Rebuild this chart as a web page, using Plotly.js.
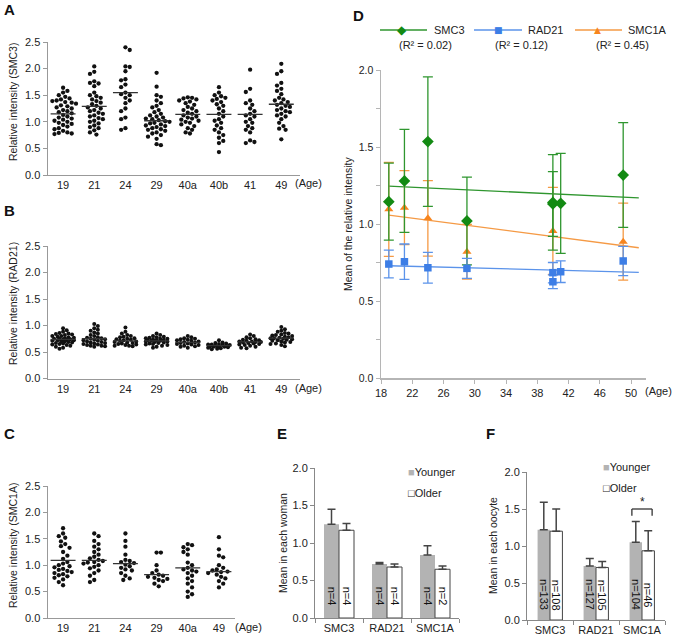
<!DOCTYPE html>
<html><head><meta charset="utf-8">
<script src="https://cdn.plot.ly/plotly-3.0.1.min.js"></script>
<style>html,body{margin:0;padding:0;background:#fff}</style>
</head><body><div id="chart" style="width:675px;height:641px"></div>
<script>
// ---------- categories ----------
const ages = ['19','21','24','29','40a','40b','41','49'];
const agesC = ['19','21','24','29','40a','49'];
const proteins = ['SMC3','RAD21','SMC1A'];

// ---------- Panel A: SMC3 relative intensity per oocyte ----------
const smc3_19 = [1.64,1.58,1.55,1.50,1.47,1.44,1.42,1.40,1.39,1.37,1.36,1.34,1.31,1.29,1.27,1.25,1.22,1.20,1.18,1.16,1.13,1.10,1.08,1.06,1.04,1.02,1.00,0.98,0.96,0.94,0.91,0.88,0.86,0.83,0.80,0.79,0.78,0.77];
const smc3_21 = [2.04,1.94,1.90,1.76,1.73,1.72,1.67,1.55,1.50,1.48,1.45,1.42,1.39,1.36,1.33,1.30,1.27,1.25,1.22,1.20,1.17,1.15,1.12,1.10,1.07,1.05,1.02,1.00,0.97,0.93,0.90,0.88,0.84,0.80,0.76];
const smc3_24 = [2.40,2.35,2.04,2.03,1.95,1.80,1.78,1.70,1.65,1.55,1.52,1.50,1.45,1.40,1.35,1.25,1.20,1.08,1.05,0.88,0.85];
const smc3_29 = [1.92,1.66,1.50,1.47,1.40,1.35,1.30,1.27,1.22,1.18,1.15,1.12,1.10,1.08,1.06,1.05,1.03,1.01,1.00,0.98,0.97,0.95,0.93,0.92,0.90,0.88,0.86,0.85,0.83,0.80,0.78,0.75,0.72,0.68,0.58,0.56];
const smc3_40a = [1.46,1.45,1.44,1.42,1.40,1.38,1.35,1.32,1.28,1.25,1.22,1.20,1.17,1.15,1.12,1.10,1.08,1.06,1.04,1.02,1.00,0.98,0.95,0.92,0.88,0.85,0.80,0.78];
const smc3_40b = [1.65,1.55,1.50,1.48,1.45,1.43,1.40,1.37,1.33,1.30,1.25,1.20,1.15,1.10,1.05,1.02,0.98,0.93,0.88,0.85,0.80,0.75,0.70,0.64,0.60,0.43];
const smc3_41 = [1.98,1.62,1.56,1.40,1.35,1.32,1.25,1.20,1.15,1.12,1.10,1.05,1.00,0.98,0.92,0.88,0.85,0.80,0.65,0.62,0.60];
const smc3_49 = [2.09,1.95,1.90,1.73,1.68,1.62,1.58,1.52,1.45,1.42,1.40,1.37,1.35,1.32,1.30,1.28,1.25,1.22,1.20,1.18,1.15,1.12,1.10,1.05,0.98,0.92,0.87,0.85,0.67];
const smc3Means = [1.15,1.29,1.55,1.02,1.14,1.14,1.14,1.33];

// ---------- Panel B: RAD21 ----------
const rad21_19 = [0.95,0.91,0.88,0.86,0.85,0.84,0.83,0.82,0.80,0.80,0.79,0.78,0.77,0.76,0.75,0.75,0.74,0.74,0.73,0.72,0.72,0.71,0.70,0.70,0.69,0.68,0.67,0.66,0.65,0.64,0.63,0.62,0.60,0.58,0.56];
const rad21_21 = [1.03,0.99,0.95,0.92,0.90,0.87,0.85,0.82,0.80,0.78,0.77,0.76,0.75,0.74,0.73,0.72,0.71,0.70,0.69,0.68,0.67,0.66,0.65,0.64,0.63,0.62,0.62,0.61,0.60];
const rad21_24 = [0.96,0.88,0.85,0.82,0.80,0.79,0.78,0.76,0.75,0.74,0.73,0.72,0.71,0.70,0.69,0.68,0.67,0.66,0.65,0.64,0.63,0.62,0.62,0.61];
const rad21_29 = [0.85,0.82,0.80,0.79,0.78,0.77,0.76,0.75,0.75,0.74,0.73,0.72,0.72,0.71,0.71,0.70,0.70,0.69,0.68,0.67,0.66,0.65,0.64,0.63,0.62,0.60,0.58];
const rad21_40a = [0.80,0.78,0.76,0.75,0.74,0.73,0.72,0.71,0.70,0.69,0.68,0.67,0.66,0.65,0.64,0.63,0.62,0.61,0.60,0.58];
const rad21_40b = [0.72,0.68,0.67,0.66,0.65,0.64,0.64,0.63,0.63,0.62,0.62,0.61,0.61,0.60,0.60,0.59,0.58,0.57,0.56,0.55];
const rad21_41 = [0.83,0.80,0.78,0.76,0.74,0.73,0.72,0.71,0.70,0.70,0.69,0.69,0.68,0.67,0.66,0.65,0.64,0.63,0.62,0.60,0.58,0.57];
const rad21_49 = [0.97,0.93,0.90,0.88,0.86,0.85,0.83,0.82,0.81,0.80,0.79,0.78,0.77,0.76,0.76,0.75,0.74,0.73,0.72,0.71,0.70,0.69,0.68,0.66,0.65,0.63,0.61];
const rad21Means = [0.74,0.75,0.71,0.71,0.68,0.62,0.69,0.76];

// ---------- Panel C: SMC1A ----------
const smc1a_19 = [1.70,1.60,1.55,1.52,1.45,1.40,1.36,1.33,1.25,1.18,1.12,1.06,1.03,1.00,0.98,0.96,0.93,0.91,0.89,0.87,0.85,0.83,0.81,0.79,0.76,0.73,0.68,0.62];
const smc1a_21 = [1.60,1.55,1.46,1.40,1.35,1.30,1.25,1.20,1.16,1.13,1.10,1.08,1.06,1.05,1.03,1.00,0.97,0.94,0.90,0.85,0.80,0.72,0.68];
const smc1a_24 = [1.60,1.46,1.35,1.20,1.10,1.08,1.06,1.04,1.01,0.98,0.95,0.92,0.90,0.85,0.80,0.75,0.72];
const smc1a_29 = [1.24,1.24,1.00,0.90,0.85,0.82,0.80,0.78,0.76,0.74,0.72,0.70,0.65,0.60];
const smc1a_40a = [1.40,1.38,1.34,1.30,1.25,1.20,1.05,1.00,0.95,0.92,0.90,0.88,0.85,0.80,0.75,0.70,0.65,0.58,0.50,0.45,0.40];
const smc1a_49 = [1.53,1.30,1.18,1.15,1.00,0.95,0.92,0.90,0.88,0.87,0.85,0.82,0.78,0.75,0.70,0.65,0.58];
const smc1aMeans = [1.09,1.09,1.03,0.82,0.95,0.88];

// ---------- Panel D: mean +/- SD vs age ----------
const ageD = [19,21,24,29,40,40,41,49];
const ageDc = [19,21,24,29,40,49];
const dSmc3 = [1.145,1.28,1.535,1.02,1.13,1.14,1.134,1.318];
const dSmc3Sd = [0.25,0.335,0.42,0.285,0.21,0.31,0.325,0.34];
const dRad21 = [0.74,0.755,0.716,0.712,0.684,0.625,0.69,0.76];
const dRad21Sd = [0.09,0.115,0.10,0.065,0.066,0.045,0.07,0.095];
const dSmc1a = [1.095,1.106,1.037,0.82,0.955,0.885];
const dSmc1aSd = [0.305,0.24,0.245,0.177,0.283,0.25];
const trendAges = [19,51];
const r2Labels = ['(R² = 0.02)','(R² = 0.12)','(R² = 0.45)'];
const dTicks = [18,22,26,30,34,38,42,46,50];

// ---------- Panel E: mean in each woman ----------
const eYoung = [1.25,0.72,0.84];
const eYoungErr = [0.20,0.02,0.125];
const eOld = [1.17,0.68,0.65];
const eOldErr = [0.09,0.04,0.045];
const eYoungN = [4,4,4];
const eOldN = [4,4,2];

// ---------- Panel F: mean in each oocyte ----------
const fYoung = [1.22,0.73,1.05];
const fYoungErr = [0.37,0.10,0.28];
const fOld = [1.20,0.71,0.935];
const fOldErr = [0.30,0.08,0.27];
const fYoungN = [133,127,104];
const fOldN = [108,105,46];

// ================= drawing =================
const W = 675, H = 641;
const X = p => p / W, Y = p => 1 - p / H;

const domA = {x:[X(47.5),X(300)], y:[Y(175),Y(42)], xr:[-0.5,7.6]};
const domB = {x:[X(47.5),X(300)], y:[Y(378.5),Y(246)], xr:[-0.5,7.6]};
const domC = {x:[X(47.5),X(234.5)], y:[Y(618),Y(486)], xr:[-0.5,5.5]};

// beeswarm layout: spread points sideways so they do not overlap, within a max half-width
function swarm(vals, pxY, gap, half) {
  const order = vals.map((v,i)=>i).sort((a,b)=>vals[b]-vals[a]);
  const placed = [], out = new Array(vals.length).fill(0);
  order.forEach((i, n) => {
    const y = vals[i]*pxY;
    const sgn = n % 2 ? 1 : -1;
    let best = 0, bestD = -1;
    for (let k = 0; k < 200; k++) {
      const s = Math.ceil(k/2) * gap * 0.5 * (k % 2 ? sgn : -sgn);
      if (Math.abs(s) > half) break;
      const dmin = placed.reduce((m, p) => Math.min(m, Math.hypot(p.x-s, p.y-y)), Infinity);
      if (dmin >= gap) { best = s; bestD = dmin; break; }
      if (dmin > bestD) { best = s; bestD = dmin; }
    }
    placed.push({x:best, y:y}); out[i] = best;
  });
  return out;
}

const traces = [];
function dotPanel(groups, means, dom, xa, ya, dot, gap, half) {
  const pxY = (dom.y[1]-dom.y[0])*H/2.5;
  const pxX = (dom.x[1]-dom.x[0])*W/(dom.xr[1]-dom.xr[0]);
  groups.forEach((vals, g) => {
    const off = swarm(vals, pxY, gap, half);
    traces.push({type:'scatter', mode:'markers', xaxis:xa, yaxis:ya, hoverinfo:'skip',
      x: off.map(o => g + o/pxX), y: vals,
      marker:{size:dot, color:'#111', line:{width:0}}});
  });
  const mx = [], my = [];
  means.forEach((m, g) => { mx.push(g-0.4, g+0.4, null); my.push(m, m, null); });
  traces.push({type:'scatter', mode:'lines', xaxis:xa, yaxis:ya, hoverinfo:'skip', x:mx, y:my,
    line:{color:'#333', width:1.3}});
}
dotPanel([smc3_19,smc3_21,smc3_24,smc3_29,smc3_40a,smc3_40b,smc3_41,smc3_49], smc3Means, domA, 'x', 'y', 4.3, 4.3, 13);
dotPanel([rad21_19,rad21_21,rad21_24,rad21_29,rad21_40a,rad21_40b,rad21_41,rad21_49], rad21Means, domB, 'x2', 'y2', 4, 3.6, 12.5);
dotPanel([smc1a_19,smc1a_21,smc1a_24,smc1a_29,smc1a_40a,smc1a_49], smc1aMeans, domC, 'x3', 'y3', 4.3, 4.3, 13);

// Panel D
function trend(xs, ys) {
  const n = xs.length, mx = xs.reduce((a,b)=>a+b)/n, my = ys.reduce((a,b)=>a+b)/n;
  let sxy = 0, sxx = 0;
  for (let i = 0; i < n; i++) { sxy += (xs[i]-mx)*(ys[i]-my); sxx += (xs[i]-mx)**2; }
  const b = sxy/sxx;
  return trendAges.map(x => my + b*(x-mx));
}
const G = {m:'#138a13', l:'#2f962f'}, B = {m:'#3d7ee6', l:'#5b93ea'}, O = {m:'#f7851e', l:'#f59a45'};
[[ageD,dSmc3,G],[ageD,dRad21,B],[ageDc,dSmc1a,O]].forEach(([xs,ys,c]) => {
  traces.push({type:'scatter', mode:'lines', xaxis:'x4', yaxis:'y4', hoverinfo:'skip',
    x:trendAges, y:trend(xs,ys), line:{color:c.l, width:1.3}});
});
[[ageDc,dSmc1a,dSmc1aSd,O,'triangle-up',8],[ageD,dSmc3,dSmc3Sd,G,'diamond',9],[ageD,dRad21,dRad21Sd,B,'square',7.5]].forEach(([xs,ys,sd,c,sym,sz]) => {
  traces.push({type:'scatter', mode:'markers', xaxis:'x4', yaxis:'y4', hoverinfo:'skip',
    x:xs, y:ys, marker:{symbol:sym, size:sz, color:c.m},
    error_y:{type:'data', array:sd, visible:true, color:c.l, thickness:1.3, width:5}});
});

// Panels E and F
const nLabels = [];
function barPair(young, yErr, old, oErr, yN, oN, xa, ya, w, labelY) {
  const common = {type:'bar', x:proteins, xaxis:xa, yaxis:ya, width:w, hoverinfo:'skip'};
  traces.push(Object.assign({}, common, {y:young, offset:-w, marker:{color:'#b3b3b3', line:{width:0}},
    error_y:{type:'data', symmetric:false, array:yErr, arrayminus:yErr.map(()=>0), color:'#444', thickness:1.5, width:4}}));
  traces.push(Object.assign({}, common, {y:old, offset:0, marker:{color:'#fff', line:{color:'#444', width:1}},
    error_y:{type:'data', symmetric:false, array:oErr, arrayminus:oErr.map(()=>0), color:'#444', thickness:1.5, width:4}}));
  proteins.forEach((p, i) => {
    nLabels.push({xref:xa, yref:ya, x:i - w/2, y:labelY, text:'n='+yN[i], textangle:90, showarrow:false, font:{size:11, color:'#111'}});
    nLabels.push({xref:xa, yref:ya, x:i + w/2, y:labelY, text:'n='+oN[i], textangle:90, showarrow:false, font:{size:11, color:'#111'}});
  });
}
barPair(eYoung,eYoungErr,eOld,eOldErr,eYoungN,eOldN,'x5','y5',0.3125,0.29);
barPair(fYoung,fYoungErr,fOld,fOldErr,fYoungN,fOldN,'x6','y6',0.27,0.34);

// ---------- layout ----------
const base = {showgrid:false, zeroline:false, showline:true, linecolor:'#999', linewidth:1,
  tickfont:{size:11, color:'#222'}, fixedrange:true, ticklen:4, tickcolor:'#999'};
function catX(dom, labels, anchor) {
  return Object.assign({}, base, {domain:dom.x, range:dom.xr, tickvals:labels.map((l,i)=>i), ticktext:labels, ticks:'', anchor:anchor});
}
function valY(dom, anchor) {
  return Object.assign({}, base, {domain:dom.y, range:[0,2.5], dtick:0.5, tickformat:'.1f', ticks:'outside', anchor:anchor});
}
const dY = [];
for (let v = 0; v <= 2.0001; v += 0.25) dY.push(Math.round(v*100)/100);

const layout = {
  width:W, height:H, margin:{l:0,r:0,t:0,b:0}, paper_bgcolor:'#fff', plot_bgcolor:'rgba(0,0,0,0)',
  showlegend:false, barmode:'group',
  font:{family:'Liberation Sans, Arial, sans-serif', size:11, color:'#222'},
  xaxis: catX(domA, ages, 'y'), yaxis: valY(domA, 'x'),
  xaxis2: catX(domB, ages, 'y2'), yaxis2: valY(domB, 'x2'),
  xaxis3: catX(domC, agesC, 'y3'), yaxis3: valY(domC, 'x3'),
  xaxis4: Object.assign({}, base, {domain:[X(381),X(646)], range:[18, 18+(646-381)/7.8125], tickvals:dTicks,
    ticks:'outside', anchor:'y4', linecolor:'#b5b5b5', linewidth:1.5, tickcolor:'#b5b5b5'}),
  yaxis4: Object.assign({}, base, {domain:[Y(378),Y(70)], range:[0,2], tickvals:dY,
    ticktext:dY.map(v => (Math.round(v*100) % 50 === 0) ? v.toFixed(1) : ''),
    ticks:'outside', anchor:'x4', linecolor:'#b5b5b5', linewidth:1.5, tickcolor:'#b5b5b5', tickfont:{size:10.5, color:'#222'}}),
  xaxis5: Object.assign({}, base, {domain:[X(315),X(459)], type:'category', ticks:'outside', tickson:'boundaries', tickangle:0, anchor:'y5', linecolor:'#888', tickcolor:'#888'}),
  yaxis5: Object.assign({}, base, {domain:[Y(618),Y(468)], range:[0,2], dtick:0.5, tickformat:'.1f', ticks:'outside', anchor:'x5', linecolor:'#888', tickcolor:'#888'}),
  xaxis6: Object.assign({}, base, {domain:[X(527),X(665)], type:'category', ticks:'outside', tickson:'boundaries', tickangle:0, anchor:'y6', linecolor:'#888', tickcolor:'#888'}),
  yaxis6: Object.assign({}, base, {domain:[Y(620),Y(472)], range:[0,2], dtick:0.5, tickformat:'.1f', ticks:'outside', anchor:'x6', linecolor:'#888', tickcolor:'#888'}),
  shapes: [], annotations: []
};

const ann = (x, y, text, o) => layout.annotations.push(Object.assign({xref:'paper', yref:'paper', x:X(x), y:Y(y), text:text,
  showarrow:false, xanchor:'center', yanchor:'middle', font:{size:11, color:'#222'}}, o||{}));

// panel letters
[['A',9,10],['B',9,210],['C',9,433],['D',359,15],['E',282,434],['F',490,433]].forEach(([t,x,y]) =>
  ann(x, y, '<b>'+t+'</b>', {font:{size:15, color:'#111'}}));
// axis titles
ann(13, 102, 'Relative intensity (SMC3)', {textangle:-90, font:{size:10.5, color:'#222'}});
ann(13, 304, 'Relative intensity (RAD21)', {textangle:-90, font:{size:10.5, color:'#222'}});
ann(13, 546, 'Relative intensity (SMC1A)', {textangle:-90, font:{size:10.5, color:'#222'}});
ann(348, 224, 'Mean of the relative intensity', {textangle:-90, font:{size:10.5, color:'#222'}});
ann(283, 543, 'Mean in each woman', {textangle:-90, font:{size:10.5, color:'#222'}});
ann(493, 546, 'Mean in each oocyte', {textangle:-90, font:{size:10.5, color:'#222'}});
// (Age)
ann(308, 183, '(Age)'); ann(308, 388, '(Age)'); ann(248, 627, '(Age)'); ann(658, 391, '(Age)');
// D legend
[[380,427,402,'◆',12,G,'SMC3',432,426],[474,522,498,'■',9,B,'RAD21',526,521],[575,622,597,'▲',9,O,'SMC1A',626,622]].forEach((e, i) => {
  const [x0,x1,xm,glyph,gs,c,name,tx,rx] = e;
  layout.shapes.push({type:'line', xref:'paper', yref:'paper', x0:X(x0), x1:X(x1), y0:Y(30), y1:Y(30), line:{color:c.l, width:1.3}});
  ann(xm, 30, glyph, {font:{size:gs, color:c.m, family:'DejaVu Sans'}});
  ann(tx, 30, name, {xanchor:'left'});
  ann(rx, 45, r2Labels[i]);
});
// E / F legends
ann(406, 472, '<span style="color:#b3b3b3">■</span>Younger', {xanchor:'left'});
ann(406, 493, '□Older', {xanchor:'left'});
ann(601, 467, '<span style="color:#b3b3b3">■</span>Younger', {xanchor:'left'});
ann(601, 488, '□Older', {xanchor:'left'});
// n labels in the bars
nLabels.forEach(a => layout.annotations.push(a));
// significance bracket on SMC1A in F
const br = {xref:'x6', yref:'y6', type:'line', line:{color:'#333', width:1.3}};
layout.shapes.push(Object.assign({}, br, {x0:1.78, x1:1.78, y0:1.41, y1:1.50}));
layout.shapes.push(Object.assign({}, br, {x0:1.78, x1:2.22, y0:1.50, y1:1.50}));
layout.shapes.push(Object.assign({}, br, {x0:2.22, x1:2.22, y0:1.41, y1:1.50}));
layout.annotations.push({xref:'x6', yref:'y6', x:2, y:1.6, text:'*', showarrow:false, font:{size:12, color:'#222'}});

Plotly.newPlot('chart', traces, layout, {staticPlot:true, displayModeBar:false});
</script></body></html>
